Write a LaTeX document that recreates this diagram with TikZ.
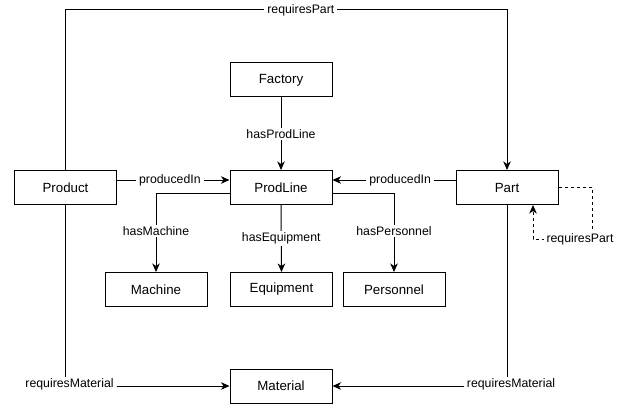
\documentclass[tikz,border=0pt]{standalone}
\usepackage{fontspec}
\setmainfont{Liberation Sans}
\usetikzlibrary{arrows.meta}
\begin{document}
\begin{tikzpicture}[x=1pt,y=-1pt,
  cls/.style={draw=black, line width=1pt, fill=white, minimum width=102pt, minimum height=34pt,
    inner sep=0pt, font=\fontsize{13.3}{15}\selectfont},
  lbl/.style={fill=white, inner xsep=3pt, inner ysep=1.5pt, font=\fontsize{12.3}{14}\selectfont},
  conn/.style={line width=1pt, -{Stealth[length=8.5pt,width=7.5pt,inset=2.5pt]}},
  selfconn/.style={conn, dash pattern=on 3pt off 3pt}]
\useasboundingbox (0,0) rectangle (639,409);

% classes
\node[cls] (factory)   at (281,80)    {Factory};
\node[cls] (prodline)  at (281,187.5) {ProdLine};
\node[cls] (product)   at (65.5,187.5){Product};
\node[cls] (part)      at (507,187.5) {Part};
\node[cls] (machine)   at (156,289.5) {Machine};
\node[cls] (equipment) at (281.5,289.5){Equipment};
\node[cls] (personnel) at (394,289.5) {Personnel};
\node[cls] (material)  at (281,386)   {Material};

% routing points
\coordinate (topL) at (65.5,10);
\coordinate (topR) at (507,10);
\coordinate (loopA) at (592,187.5);
\coordinate (loopB) at (592,239);
\coordinate (loopC) at (533,239);

% relations
\draw[conn] (factory.south) -- node[lbl]{hasProdLine} (prodline.north);
\draw[conn] ([yshift=7.5pt]product.east) -- node[lbl,pos=0.47]{producedIn} ([yshift=7.5pt]prodline.west);
\draw[conn] ([yshift=7.5pt]part.west) -- node[lbl,pos=0.45]{producedIn} ([yshift=7.5pt]prodline.east);
\draw[conn] ([yshift=-5.5pt]prodline.west) -| node[lbl,pos=0.74]{hasMachine} (machine.north);
\draw[conn] (prodline.south) -- node[lbl,pos=0.5]{hasEquipment} (equipment.north);
\draw[conn] ([yshift=-5.5pt]prodline.east) -| node[lbl,pos=0.74]{hasPersonnel} (personnel.north);
\draw[conn] (product.north) -- (topL) -- node[lbl,pos=0.533]{requiresPart} (topR) -- (part.north);
\draw[conn] (product.south) |- node[lbl,pos=0.5,xshift=4pt,yshift=2pt]{requiresMaterial} (material.west);
\draw[conn] (part.south) |- node[lbl,pos=0.5,xshift=4pt,yshift=2pt]{requiresMaterial} (material.east);
\draw[selfconn] (part.east) -- (loopA) -- (loopB) -- (loopC) -- ([xshift=26pt]part.south);
\node[lbl] at ([xshift=-12pt]loopB) {requiresPart};
\end{tikzpicture}
\end{document}
